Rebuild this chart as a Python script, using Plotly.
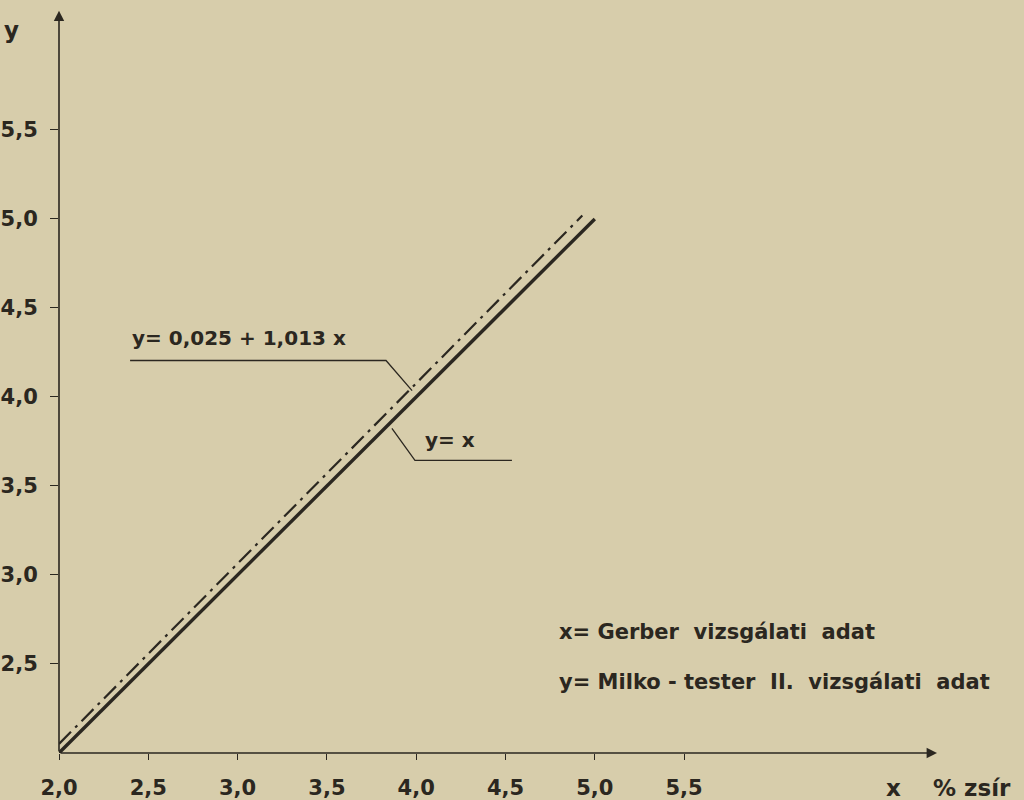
import plotly.graph_objects as go

# data
x_ticks = [2.0, 2.5, 3.0, 3.5, 4.0, 4.5, 5.0, 5.5]
x_tick_labels = ["2,0", "2,5", "3,0", "3,5", "4,0", "4,5", "5,0", "5,5"]
y_ticks = [2.5, 3.0, 3.5, 4.0, 4.5, 5.0, 5.5]
y_tick_labels = ["2,5", "3,0", "3,5", "4,0", "4,5", "5,0", "5,5"]

identity_x = [2.0, 5.0]
identity_y = [2.0, 5.0]

reg_a = 0.025
reg_b = 1.013
reg_x = [2.0, 4.93]
reg_y = [reg_a + reg_b * v for v in reg_x]

ink = "#2b2720"
paper = "#d7cdab"
font = "DejaVu Sans"

fig = go.Figure()
fig.add_trace(go.Scatter(x=identity_x, y=identity_y, mode="lines",
                         line=dict(color=ink, width=3.4), showlegend=False))
fig.add_trace(go.Scatter(x=reg_x, y=reg_y, mode="lines",
                         line=dict(color=ink, width=2.2, dash="17px,6px,3px,6px"),
                         showlegend=False))

# leader lines
fig.add_trace(go.Scatter(x=[2.398, 3.831, 3.977], y=[4.205, 4.205, 4.036], mode="lines",
                         line=dict(color=ink, width=1.3), showlegend=False))
fig.add_trace(go.Scatter(x=[3.864, 3.993, 4.536], y=[3.824, 3.644, 3.644], mode="lines",
                         line=dict(color=ink, width=1.3), showlegend=False))

# labels inside the plot (data coords)
notes = [
    dict(x=3.01, y=4.33, text="y= 0,025 + 1,013 x", xanchor="center", size=20),
    dict(x=4.19, y=3.76, text="y= x", xanchor="center", size=20),
    dict(x=4.79, y=2.68, text="x= Gerber  vizsgálati  adat", xanchor="left", size=21),
    dict(x=4.79, y=2.40, text="y= Milko - tester  II.  vizsgálati  adat", xanchor="left", size=21),
]
for n in notes:
    fig.add_annotation(x=n["x"], y=n["y"], xref="x", yref="y", text=n["text"],
                       showarrow=False, xanchor=n["xanchor"], yanchor="middle",
                       font=dict(family=font, size=n["size"], color=ink, weight=600))

# axis names outside the plot (paper coords)
axis_names = [
    dict(x=-0.054, y=0.966, text="y", xanchor="center"),
    dict(x=0.95, y=-0.047, text="x", xanchor="center"),
    dict(x=0.993, y=-0.047, text="% zsír", xanchor="left"),
]
for n in axis_names:
    fig.add_annotation(x=n["x"], y=n["y"], xref="paper", yref="paper", text=n["text"],
                       showarrow=False, xanchor=n["xanchor"], yanchor="middle",
                       font=dict(family=font, size=23, color=ink, weight=600))

# axis arrows
fig.add_annotation(x=6.916, y=2.0, ax=2.0, ay=2.0, xref="x", yref="y", axref="x", ayref="y",
                   showarrow=True, arrowhead=2, arrowsize=1.3, arrowwidth=1.6,
                   arrowcolor=ink, text="")
fig.add_annotation(x=2.0, y=6.17, ax=2.0, ay=2.0, xref="x", yref="y", axref="x", ayref="y",
                   showarrow=True, arrowhead=2, arrowsize=1.3, arrowwidth=1.6,
                   arrowcolor=ink, text="")

fig.update_xaxes(range=[2.0, 6.916], tickvals=x_ticks, ticktext=x_tick_labels,
                 ticks="outside", ticklen=6, tickwidth=1.4, tickcolor=ink,
                 ticklabelstandoff=10, automargin=False,
                 showgrid=False, zeroline=False, showline=False,
                 tickfont=dict(family=font, size=21, color=ink, weight=600))
fig.update_yaxes(range=[2.0, 6.202], tickvals=y_ticks, ticktext=y_tick_labels,
                 ticks="outside", ticklen=8, tickwidth=1.4, tickcolor=ink,
                 ticklabelstandoff=8, automargin=False,
                 showgrid=False, zeroline=False, showline=False,
                 tickfont=dict(family=font, size=21, color=ink, weight=600))

fig.update_layout(width=1024, height=800, margin=dict(l=59, r=87, t=5, b=47),
                  paper_bgcolor=paper, plot_bgcolor=paper, showlegend=False)

fig.write_html("out.html", config={"displayModeBar": False},
               post_script="document.body.style.margin='0px';")
